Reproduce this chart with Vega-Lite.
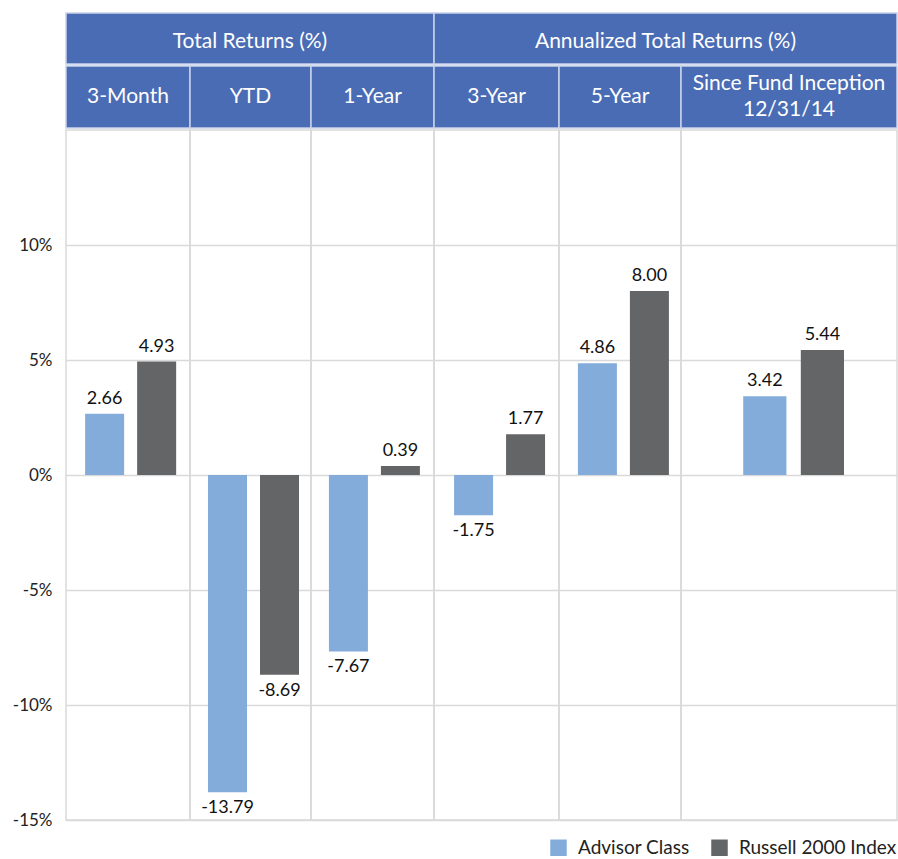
{
  "$schema": "https://vega.github.io/schema/vega-lite/v6.json",
  "padding": {"left": 11, "top": 12, "right": 0, "bottom": 0},
  "spacing": 0,
  "datasets": {
    "returns": [
      {"period": "3-Month", "series": "Advisor Class", "value": 2.66},
      {"period": "3-Month", "series": "Russell 2000 Index", "value": 4.93},
      {"period": "YTD", "series": "Advisor Class", "value": -13.79},
      {"period": "YTD", "series": "Russell 2000 Index", "value": -8.69},
      {"period": "1-Year", "series": "Advisor Class", "value": -7.67},
      {"period": "1-Year", "series": "Russell 2000 Index", "value": 0.39},
      {"period": "3-Year", "series": "Advisor Class", "value": -1.75},
      {"period": "3-Year", "series": "Russell 2000 Index", "value": 1.77},
      {"period": "5-Year", "series": "Advisor Class", "value": 4.86},
      {"period": "5-Year", "series": "Russell 2000 Index", "value": 8.0},
      {"period": "Since Fund Inception", "series": "Advisor Class", "value": 3.42},
      {"period": "Since Fund Inception", "series": "Russell 2000 Index", "value": 5.44}
    ]
  },
  "vconcat": [
    {
      "spacing": 0,
      "bounds": "flush",
      "hconcat": [
        {"width": 368, "height": 51, "view": {"fill": "#4a6cb4", "stroke": "#c7d2ea", "strokeWidth": 1.5},
         "data": {"values": [{"label": "Total Returns (%)"}]},
         "mark": {"type": "text", "color": "white", "font": "Lato", "fontSize": 21, "dy": 3},
         "encoding": {"text": {"field": "label"},
           "y": {"datum": 0, "type": "quantitative", "scale": {"domain": [-1, 1]},
                 "axis": {"values": [0], "labelExpr": "'-15%'", "labelColor": "transparent", "title": null, "ticks": false, "domain": false, "grid": false, "labelPadding": 14}}}},
        {"width": 463, "height": 51, "view": {"fill": "#4a6cb4", "stroke": "#c7d2ea", "strokeWidth": 1.5},
         "data": {"values": [{"label": "Annualized Total Returns (%)"}]},
         "mark": {"type": "text", "color": "white", "font": "Lato", "fontSize": 21, "dy": 3},
         "encoding": {"text": {"field": "label"}}}
      ]
    },
    {
      "spacing": 0,
      "bounds": "flush",
      "hconcat": [
        {"width": 124, "height": 62, "view": {"fill": "#4a6cb4", "stroke": "#c7d2ea", "strokeWidth": 1.5},
         "data": {"values": [{"label": "3-Month"}]},
         "mark": {"type": "text", "color": "white", "font": "Lato", "fontSize": 21},
         "encoding": {"text": {"field": "label"},
           "y": {"datum": 0, "type": "quantitative", "scale": {"domain": [-1, 1]},
                 "axis": {"values": [0], "labelExpr": "'-15%'", "labelColor": "transparent", "title": null, "ticks": false, "domain": false, "grid": false, "labelPadding": 14}}}},
        {"width": 121, "height": 62, "view": {"fill": "#4a6cb4", "stroke": "#c7d2ea", "strokeWidth": 1.5},
         "data": {"values": [{"label": "YTD"}]},
         "mark": {"type": "text", "color": "white", "font": "Lato", "fontSize": 21},
         "encoding": {"text": {"field": "label"}}},
        {"width": 123, "height": 62, "view": {"fill": "#4a6cb4", "stroke": "#c7d2ea", "strokeWidth": 1.5},
         "data": {"values": [{"label": "1-Year"}]},
         "mark": {"type": "text", "color": "white", "font": "Lato", "fontSize": 21},
         "encoding": {"text": {"field": "label"}}},
        {"width": 125, "height": 62, "view": {"fill": "#4a6cb4", "stroke": "#c7d2ea", "strokeWidth": 1.5},
         "data": {"values": [{"label": "3-Year"}]},
         "mark": {"type": "text", "color": "white", "font": "Lato", "fontSize": 21},
         "encoding": {"text": {"field": "label"}}},
        {"width": 122, "height": 62, "view": {"fill": "#4a6cb4", "stroke": "#c7d2ea", "strokeWidth": 1.5},
         "data": {"values": [{"label": "5-Year"}]},
         "mark": {"type": "text", "color": "white", "font": "Lato", "fontSize": 21},
         "encoding": {"text": {"field": "label"}}},
        {"width": 216, "height": 62, "view": {"fill": "#4a6cb4", "stroke": "#c7d2ea", "strokeWidth": 1.5},
         "data": {"values": [{"label": "Since Fund Inception\n12/31/14"}]},
         "mark": {"type": "text", "color": "white", "font": "Lato", "fontSize": 21, "lineBreak": "\n", "lineHeight": 26, "dy": -13},
         "encoding": {"text": {"field": "label"}}}
      ]
    },
    {
      "spacing": 0,
      "bounds": "flush",
      "hconcat": [
        {"width": 124, "height": 690,
         "data": {"name": "returns"},
         "transform": [{"filter": "datum.period === '3-Month'"}],
         "encoding": {
           "x": {"field": "series", "type": "nominal", "axis": null,
                 "scale": {"domain": ["Advisor Class", "Russell 2000 Index"], "paddingInner": 0.25, "paddingOuter": 0.317, "align": 0.58}},
           "y": {"field": "value", "type": "quantitative", "scale": {"domain": [-15, 15], "nice": false},
                 "axis": {"values": [-15, -10, -5, 0, 5, 10], "labelExpr": "datum.value + '%'", "title": null, "ticks": false, "domain": false, "labelPadding": 14}}
         },
         "layer": [
           {"mark": {"type": "bar"},
            "encoding": {"color": {"field": "series", "type": "nominal", "title": null,
              "scale": {"domain": ["Advisor Class", "Russell 2000 Index"], "range": ["#84acdb", "#646567"]}}}},
           {"transform": [{"filter": "datum.value >= 0"}], "mark": {"type": "text", "baseline": "bottom", "dy": -6}, "encoding": {"text": {"field": "value", "format": ".2f"}}},
           {"transform": [{"filter": "datum.value < 0"}], "mark": {"type": "text", "baseline": "top", "dy": 7}, "encoding": {"text": {"field": "value", "format": ".2f"}}}
         ]},
        {"width": 121, "height": 690,
         "data": {"name": "returns"},
         "transform": [{"filter": "datum.period === 'YTD'"}],
         "encoding": {
           "x": {"field": "series", "type": "nominal", "axis": null,
                 "scale": {"domain": ["Advisor Class", "Russell 2000 Index"], "paddingInner": 0.25, "paddingOuter": 0.288, "align": 0.6}},
           "y": {"field": "value", "type": "quantitative", "scale": {"domain": [-15, 15], "nice": false},
                 "axis": {"values": [-15, -10, -5, 0, 5, 10], "labels": false, "title": null, "ticks": false, "domain": false}}
         },
         "layer": [
           {"mark": {"type": "bar"},
            "encoding": {"color": {"field": "series", "type": "nominal", "title": null,
              "scale": {"domain": ["Advisor Class", "Russell 2000 Index"], "range": ["#84acdb", "#646567"]}}}},
           {"transform": [{"filter": "datum.value >= 0"}], "mark": {"type": "text", "baseline": "bottom", "dy": -6}, "encoding": {"text": {"field": "value", "format": ".2f"}}},
           {"transform": [{"filter": "datum.value < 0"}], "mark": {"type": "text", "baseline": "top", "dy": 7}, "encoding": {"text": {"field": "value", "format": ".2f"}}}
         ]},
        {"width": 123, "height": 690,
         "data": {"name": "returns"},
         "transform": [{"filter": "datum.period === '1-Year'"}],
         "encoding": {
           "x": {"field": "series", "type": "nominal", "axis": null,
                 "scale": {"domain": ["Advisor Class", "Russell 2000 Index"], "paddingInner": 0.25, "paddingOuter": 0.308, "align": 0.56}},
           "y": {"field": "value", "type": "quantitative", "scale": {"domain": [-15, 15], "nice": false},
                 "axis": {"values": [-15, -10, -5, 0, 5, 10], "labels": false, "title": null, "ticks": false, "domain": false}}
         },
         "layer": [
           {"mark": {"type": "bar"},
            "encoding": {"color": {"field": "series", "type": "nominal", "title": null,
              "scale": {"domain": ["Advisor Class", "Russell 2000 Index"], "range": ["#84acdb", "#646567"]}}}},
           {"transform": [{"filter": "datum.value >= 0"}], "mark": {"type": "text", "baseline": "bottom", "dy": -6}, "encoding": {"text": {"field": "value", "format": ".2f"}}},
           {"transform": [{"filter": "datum.value < 0"}], "mark": {"type": "text", "baseline": "top", "dy": 7}, "encoding": {"text": {"field": "value", "format": ".2f"}}}
         ]},
        {"width": 125, "height": 690,
         "data": {"name": "returns"},
         "transform": [{"filter": "datum.period === '3-Year'"}],
         "encoding": {
           "x": {"field": "series", "type": "nominal", "axis": null,
                 "scale": {"domain": ["Advisor Class", "Russell 2000 Index"], "paddingInner": 0.25, "paddingOuter": 0.327, "align": 0.59}},
           "y": {"field": "value", "type": "quantitative", "scale": {"domain": [-15, 15], "nice": false},
                 "axis": {"values": [-15, -10, -5, 0, 5, 10], "labels": false, "title": null, "ticks": false, "domain": false}}
         },
         "layer": [
           {"mark": {"type": "bar"},
            "encoding": {"color": {"field": "series", "type": "nominal", "title": null,
              "scale": {"domain": ["Advisor Class", "Russell 2000 Index"], "range": ["#84acdb", "#646567"]}}}},
           {"transform": [{"filter": "datum.value >= 0"}], "mark": {"type": "text", "baseline": "bottom", "dy": -6}, "encoding": {"text": {"field": "value", "format": ".2f"}}},
           {"transform": [{"filter": "datum.value < 0"}], "mark": {"type": "text", "baseline": "top", "dy": 7}, "encoding": {"text": {"field": "value", "format": ".2f"}}}
         ]},
        {"width": 122, "height": 690,
         "data": {"name": "returns"},
         "transform": [{"filter": "datum.period === '5-Year'"}],
         "encoding": {
           "x": {"field": "series", "type": "nominal", "axis": null,
                 "scale": {"domain": ["Advisor Class", "Russell 2000 Index"], "paddingInner": 0.25, "paddingOuter": 0.298, "align": 0.61}},
           "y": {"field": "value", "type": "quantitative", "scale": {"domain": [-15, 15], "nice": false},
                 "axis": {"values": [-15, -10, -5, 0, 5, 10], "labels": false, "title": null, "ticks": false, "domain": false}}
         },
         "layer": [
           {"mark": {"type": "bar"},
            "encoding": {"color": {"field": "series", "type": "nominal", "title": null,
              "scale": {"domain": ["Advisor Class", "Russell 2000 Index"], "range": ["#84acdb", "#646567"]}}}},
           {"transform": [{"filter": "datum.value >= 0"}], "mark": {"type": "text", "baseline": "bottom", "dy": -6}, "encoding": {"text": {"field": "value", "format": ".2f"}}},
           {"transform": [{"filter": "datum.value < 0"}], "mark": {"type": "text", "baseline": "top", "dy": 7}, "encoding": {"text": {"field": "value", "format": ".2f"}}}
         ]},
        {"width": 216, "height": 690,
         "data": {"name": "returns"},
         "transform": [{"filter": "datum.period === 'Since Fund Inception'"}],
         "encoding": {
           "x": {"field": "series", "type": "nominal", "axis": null,
                 "scale": {"domain": ["Advisor Class", "Russell 2000 Index"], "paddingInner": 0.25, "paddingOuter": 1.202, "align": 0.54}},
           "y": {"field": "value", "type": "quantitative", "scale": {"domain": [-15, 15], "nice": false},
                 "axis": {"values": [-15, -10, -5, 0, 5, 10], "labels": false, "title": null, "ticks": false, "domain": false}}
         },
         "layer": [
           {"mark": {"type": "bar"},
            "encoding": {"color": {"field": "series", "type": "nominal", "title": null,
              "scale": {"domain": ["Advisor Class", "Russell 2000 Index"], "range": ["#84acdb", "#646567"]}}}},
           {"transform": [{"filter": "datum.value >= 0"}], "mark": {"type": "text", "baseline": "bottom", "dy": -6}, "encoding": {"text": {"field": "value", "format": ".2f"}}},
           {"transform": [{"filter": "datum.value < 0"}], "mark": {"type": "text", "baseline": "top", "dy": 7}, "encoding": {"text": {"field": "value", "format": ".2f"}}}
         ]}
      ]
    }
  ],
  "config": {
    "font": "Lato",
    "locale": {"number": {"decimal": ".", "thousands": ",", "grouping": [3], "currency": ["$", ""], "minus": "-"}},
    "view": {"stroke": "#d9d9d9", "strokeWidth": 1.5},
    "axis": {"gridColor": "#d9d9d9", "gridWidth": 1.5, "labelFont": "Lato", "labelFontSize": 17, "labelColor": "#222222"},
    "text": {"font": "Lato", "fontSize": 18, "color": "#111111"},
    "legend": {"orient": "none", "legendX": 483, "legendY": 825, "direction": "horizontal", "symbolType": "square", "symbolSize": 272, "symbolStrokeWidth": 0,
               "labelFont": "Lato", "labelFontSize": 19, "labelColor": "#222222", "columnPadding": 20, "labelOffset": 10}
  }
}
